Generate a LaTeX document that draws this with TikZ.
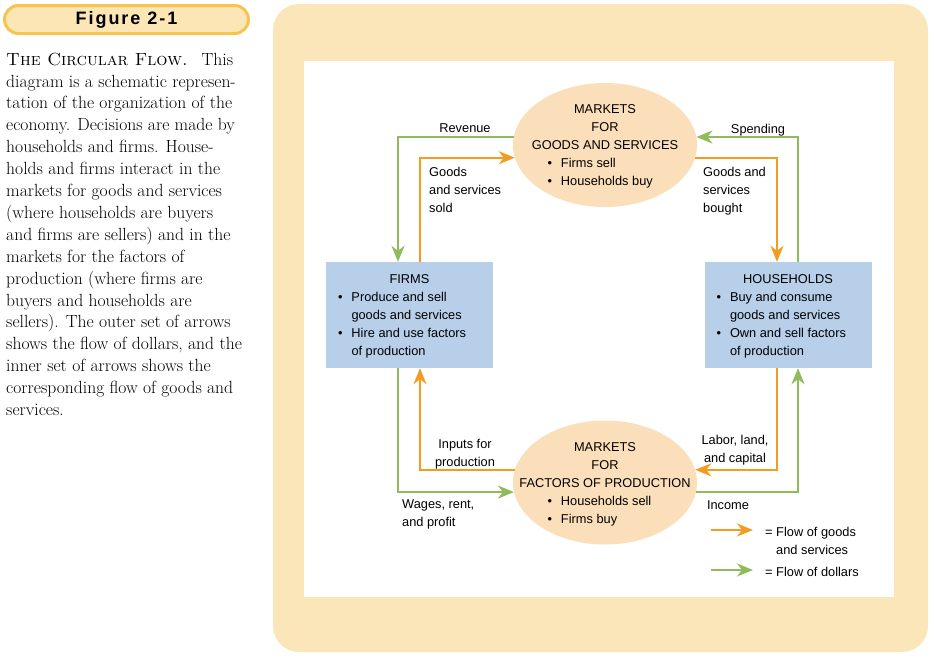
\documentclass[tikz,border=0pt]{standalone}
\usepackage{fontspec}
\usetikzlibrary{shapes.geometric,arrows.meta}
\newfontfamily\diagfont{Liberation Sans}
\newfontfamily\figfont[LetterSpace=11]{Liberation Sans}
\definecolor{framecol}{HTML}{FBE6B9}
\definecolor{labelfill}{HTML}{FCE6B5}
\definecolor{labeledge}{HTML}{F6C450}
\definecolor{peach}{HTML}{FBDFBA}
\definecolor{boxblue}{HTML}{B8CFEA}
\definecolor{goodsor}{HTML}{F49C22}
\definecolor{dollgr}{HTML}{8FBB5C}
\newcommand\bl[2]{\makebox[#1][l]{\makebox[13.5pt][l]{\textbullet}#2}}
\newcommand\cl[2]{\makebox[#1][l]{\hspace*{13.5pt}#2}}
\tikzset{
  dtext/.style={font=\diagfont\fontsize{12.8}{18}\selectfont, inner sep=0pt, yshift=-1.5pt},
  ell/.style={ellipse, fill=peach, minimum width=184pt, minimum height=124pt, inner sep=0pt},
  bluebox/.style={rectangle, fill=boxblue, minimum width=167pt, minimum height=106pt, inner sep=0pt},
  etext/.style={dtext, align=center},
  grarrow/.style={draw=dollgr, line width=2pt, -{Stealth[length=16pt,width=13pt,inset=5pt]}},
  orarrow/.style={draw=goodsor, line width=2pt, -{Stealth[length=16pt,width=13pt,inset=5pt]}},
  lbl/.style={dtext, anchor=north},
  lbll/.style={dtext, anchor=north west, align=left},
}
\begin{document}
\begin{tikzpicture}[x=1pt,y=-1pt]
\useasboundingbox (0,0) rectangle (934,657);
% frame
\fill[framecol, rounded corners=26pt] (273,4) rectangle (928,652);
\fill[white] (304,61) rectangle (894,597);
% figure label
\node[draw=labeledge, line width=3pt, fill=labelfill, rounded corners=14pt,
      minimum width=244pt, minimum height=28pt, inner sep=0pt,
      font=\figfont\bfseries\fontsize{18}{20}\selectfont] (figlabel) at (126.5,19.5) {Figure 2-1};
% caption
\node[anchor=north west, inner sep=0pt, align=left, font=\fontsize{17.6}{21.9}\selectfont] (caption) at (6,52.5)
{\textsc{The Circular Flow.}\hspace{14pt}This\\
diagram is a schematic represen-\\
tation of the organization of the\\
economy. Decisions are made by\\
households and firms. House-\\
holds and firms interact in the\\
markets for goods and services\\
(where households are buyers\\
and firms are sellers) and in the\\
markets for the factors of\\
production (where firms are\\
buyers and households are\\
sellers). The outer set of arrows\\
shows the flow of dollars, and the\\
inner set of arrows shows the\\
corresponding flow of goods and\\
services.};
% main nodes
\node[ell] (gs) at (605,145) {};
\node[etext] (gstext) at (gs.center) {MARKETS\\FOR\\GOODS AND SERVICES\\\bl{115pt}{Firms sell}\\\bl{115pt}{Households buy}};
\node[ell] (fp) at (605,482.5) {};
\node[etext] (fptext) at (fp.center) {MARKETS\\FOR\\FACTORS OF PRODUCTION\\\bl{115pt}{Households sell}\\\bl{115pt}{Firms buy}};
\node[bluebox] (firms) at (409.5,315) {};
\node[etext] (firmstext) at (firms.center) {FIRMS\\\bl{143pt}{Produce and sell}\\\cl{143pt}{goods and services}\\\bl{143pt}{Hire and use factors}\\\cl{143pt}{of production}};
\node[bluebox] (hh) at (788,315) {};
\node[etext] (hhtext) at (hh.center) {HOUSEHOLDS\\\bl{143pt}{Buy and consume}\\\cl{143pt}{goods and services}\\\bl{143pt}{Own and sell factors}\\\cl{143pt}{of production}};
% dollar flows (outer)
\draw[grarrow] (gs.175) -| ([xshift=-11.5pt]firms.north);
\draw[grarrow] ([xshift=10pt]hh.north) |- (gs.5);
\draw[grarrow] ([xshift=-11.5pt]firms.south) |- (fp.186);
\draw[grarrow] (fp.354) -| ([xshift=10pt]hh.south);
% goods flows (inner)
\draw[orarrow] ([xshift=10.5pt]firms.north) |- (gs.188);
\draw[orarrow] (gs.352) -| ([xshift=-11pt]hh.north);
\draw[orarrow] (fp.172) -| ([xshift=10.5pt]firms.south);
\draw[orarrow] ([xshift=-11pt]hh.south) |- (fp.8);
% labels
\node[lbl] (revenue) at (465,122.3) {Revenue};
\node[lbl] (spending) at (758,122.3) {Spending};
\node[lbll] (gsold) at (429,165.3) {Goods\\and services\\sold};
\node[lbll] (gbought) at (703,165.3) {Goods and\\services\\bought};
\node[lbl, align=center] (inputs) at (465,437.3) {Inputs for\\production};
\node[lbl, align=center] (labor) at (735,433.3) {Labor, land,\\and capital};
\node[lbll] (wages) at (402,498.3) {Wages, rent,\\and profit};
\node[lbl] (income) at (728,499.3) {Income};
% legend
\coordinate (lgoa) at (711,530);
\coordinate (lgob) at (753,530);
\coordinate (lgga) at (711,570);
\coordinate (lggb) at (753,570);
\draw[orarrow] (lgoa) -- (lgob);
\draw[grarrow] (lgga) -- (lggb);
\node[lbll] (lgotext) at (765,525.3) {=\ Flow of goods\\\hphantom{=\ }and services};
\node[lbll] (lggtext) at (765,565.3) {=\ Flow of dollars};
\end{tikzpicture}
\end{document}
